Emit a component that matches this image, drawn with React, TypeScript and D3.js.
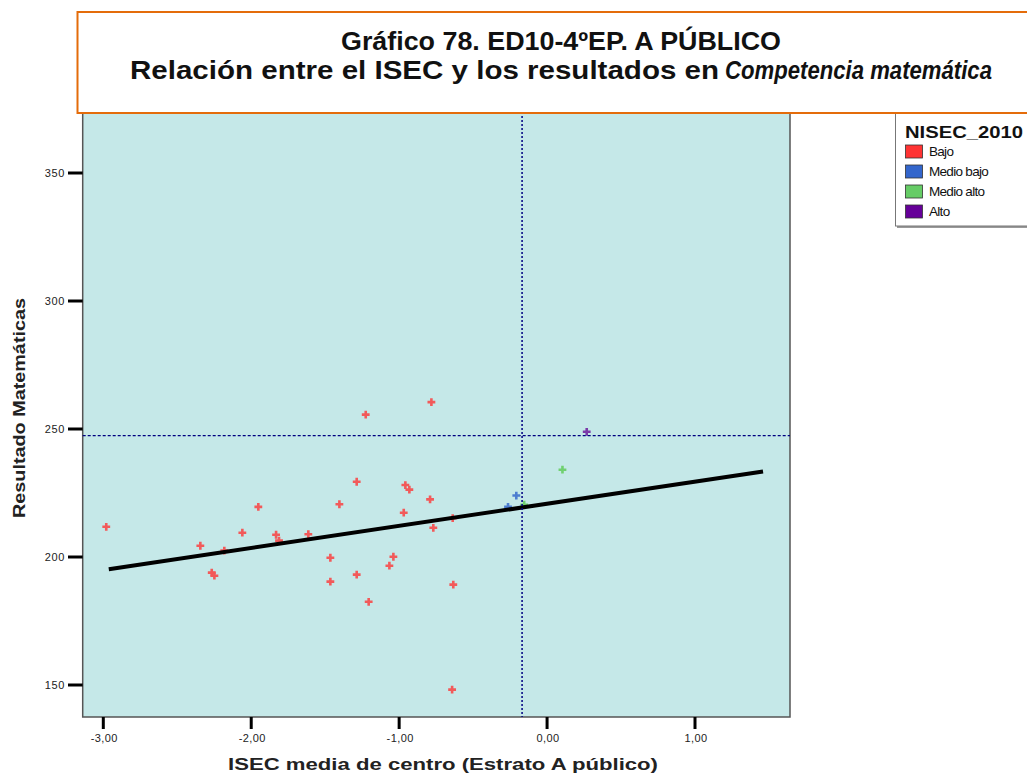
import React from "react";
import * as d3 from "d3";

const xTicks = [-3, -2, -1, 0, 1];
const yTicks = [150, 200, 250, 300, 350];

const bajoX = [-2.98, -2.344, -2.267, -2.249, -2.182, -2.06, -1.952, -1.832, -1.812, -1.614, -1.465, -1.465, -1.404, -1.287, -1.226, -1.287, -1.206, -1.066, -1.039, -0.969, -0.958, -0.931, -0.791, -0.782, -0.769, -0.638, -0.634, -0.642];
const bajoY = [211.8, 204.4, 193.9, 192.7, 202.5, 209.5, 219.6, 208.7, 206.4, 208.9, 199.7, 190.4, 220.6, 229.4, 255.6, 193.1, 182.5, 196.6, 200.1, 217.3, 228.1, 226.3, 222.5, 260.5, 211.4, 215.2, 189.2, 148.2];
const medioBajoX = [-0.208, -0.264];
const medioBajoY = [224.0, 219.6];
const medioAltoX = [-0.155, 0.104];
const medioAltoY = [220.4, 234.1];
const altoX = [0.268];
const altoY = [248.9];

const categories = ["Bajo", "Medio bajo", "Medio alto", "Alto"];
const swatchColors = ["#FF3333", "#3366CC", "#66CC66", "#660099"];
const pointColors = ["#F25A5A", "#4D7DD0", "#70D070", "#7A3AA8"];

const meanX = -0.169;
const meanY = 247.4;
const fitX = [-2.963, 1.46];
const fitY = [195.2, 233.4];

export default function App() {
  const x = d3.scaleLinear().domain([-3, 1]).range([103.3, 695]);
  const y = d3.scaleLinear().domain([200, 250]).range([557, 429]);
  const L = 82.7, R = 790, T = 100, B = 717;
  const sym = d3.symbol().type(d3.symbolCross).size(34)();
  const series = [
    { xs: bajoX, ys: bajoY },
    { xs: medioBajoX, ys: medioBajoY },
    { xs: medioAltoX, ys: medioAltoY },
    { xs: altoX, ys: altoY },
  ];
  const line = d3.line<number>().x((d) => x(fitX[d])).y((d) => y(fitY[d]));
  const font = "'Liberation Sans', Arial, sans-serif";
  return (
    <svg width={1027} height={774} style={{ position: "absolute", left: 0, top: 0, background: "#fff" }} fontFamily={font}>
      <rect x={L} y={T} width={R - L} height={B - T} fill="#C5E8E8" stroke="#555" strokeWidth={1.5} />
      {yTicks.map((t) => (
        <g key={"y" + t}>
          <line x1={68} x2={L} y1={y(t)} y2={y(t)} stroke="#000" strokeWidth={3} />
          <text x={65} y={y(t) + 4} fontSize={11} textAnchor="end" letterSpacing={0.6} fill="#222">{t}</text>
        </g>
      ))}
      {xTicks.map((t) => (
        <g key={"x" + t}>
          <line x1={x(t)} x2={x(t)} y1={B} y2={729} stroke="#000" strokeWidth={3} />
          <text x={x(t) + 1} y={742} fontSize={11} textAnchor="middle" letterSpacing={0.4} fill="#222">{d3.format(".2f")(t).replace(".", ",").replace("−", "-")}</text>
        </g>
      ))}
      {series.map((s, i) =>
        s.xs.map((v, j) => (
          <path key={i + "-" + j} d={sym} transform={`translate(${x(v)},${y(s.ys[j])})`} fill={pointColors[i]} />
        ))
      )}
      <path d={line([0, 1]) || ""} stroke="#000" strokeWidth={4} fill="none" />
      <line x1={L} x2={R} y1={y(meanY)} y2={y(meanY)} stroke="#000080" strokeWidth={1.3} strokeDasharray="3,2" />
      <line x1={x(meanX)} x2={x(meanX)} y1={T} y2={B} stroke="#000080" strokeWidth={1.5} strokeDasharray="2,2" />
      <text x={443} y={770} fontSize={17} fontWeight="bold" textAnchor="middle" textLength={430} lengthAdjust="spacingAndGlyphs" fill="#222">ISEC media de centro (Estrato A público)</text>
      <text transform="translate(25,408) rotate(-90)" fontSize={17} fontWeight="bold" textAnchor="middle" textLength={220} lengthAdjust="spacingAndGlyphs" fill="#222">Resultado Matemáticas</text>
      <rect x={897} y={105} width={140} height={123} fill="#999" />
      <rect x={895.5} y={103} width={140} height={123} fill="#fff" stroke="#777" strokeWidth={1} />
      <text x={905} y={138} fontSize={17} fontWeight="bold" textLength={118} lengthAdjust="spacingAndGlyphs" fill="#111">NISEC_2010</text>
      {categories.map((c, i) => (
        <g key={c}>
          <rect x={905.5} y={145 + i * 20} width={17} height={13} fill={swatchColors[i]} stroke="#333" strokeWidth={0.8} />
          <text x={929} y={156 + i * 20} fontSize={13.5} letterSpacing={-0.7} fill="#111">{c}</text>
        </g>
      ))}
      <rect x={77.5} y={12} width={1000} height={101} fill="#fff" stroke="#E46C0A" strokeWidth={2} />
      <text x={561} y={50} fontSize={25} fontWeight="bold" textLength={440} lengthAdjust="spacingAndGlyphs" textAnchor="middle" fill="#111">Gráfico 78. ED10-4ºEP. A PÚBLICO</text>
      <text x={130} y={79} fontSize={25} fontWeight="bold" textLength={589} lengthAdjust="spacingAndGlyphs" fill="#111">Relación entre el ISEC y los resultados en</text>
      <text x={725} y={79} fontSize={25} fontWeight="bold" fontStyle="italic" textLength={267} lengthAdjust="spacingAndGlyphs" fill="#111">Competencia matemática</text>
    </svg>
  );
}
